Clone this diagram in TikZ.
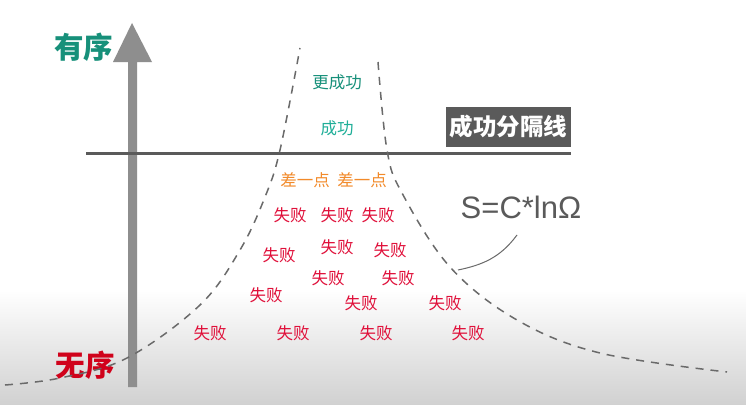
\documentclass[tikz,border=0pt]{standalone}
\usepackage{fontspec}
\setmainfont{Liberation Sans}
\newfontfamily\cjk{Noto Sans CJK SC}
\definecolor{ordgreen}{HTML}{17907A}
\definecolor{okgreen}{HTML}{1FAE98}
\definecolor{nearorange}{HTML}{F28A2A}
\definecolor{failred}{HTML}{E0103A}
\definecolor{chaosred}{HTML}{D0021B}
\definecolor{arrowgray}{HTML}{8E8E8E}
\definecolor{linegray}{HTML}{5A5A5A}
\definecolor{curvegray}{HTML}{6A6A6A}
\tikzset{
	fail/.style={text=failred,font=\cjk\fontsize{16.5}{16.5}\selectfont,inner sep=0pt},
	near/.style={text=nearorange,font=\cjk\fontsize{16.5}{16.5}\selectfont,inner sep=0pt},
	edge/.style={draw=curvegray,line width=1.5pt,dash pattern=on 8pt off 7pt},
}
\begin{document}
\begin{tikzpicture}[x=1pt,y=-1pt]
			\useasboundingbox (0,0) rectangle (746,404);
			\fill[white] (0,0) rectangle (746,290);
			\shade[top color=white,bottom color=black!18] (0,290) rectangle (746,404);
			\coordinate (tip) at (132,23);
			\coordinate (foot) at (132,387);
			\coordinate (sepL) at (86,153);
			\coordinate (sepR) at (571,153);
			\fill[arrowgray] (128,387) -- (128,62) -- (113,62) -- (tip) -- (152,62) -- (137,62) -- (137,387) -- cycle;
			\node[text=ordgreen,font=\cjk\bfseries\fontsize{29.5}{29.5}\selectfont,inner sep=0pt] (order) at (83.5,47) {有序};
			\node[text=chaosred,font=\cjk\bfseries\fontsize{29.5}{29.5}\selectfont,inner sep=0pt] (chaos) at (85,365) {无序};
			\draw[linegray,line width=3pt] (sepL) -- (sepR);
			\node[fill=linegray,text=white,font=\cjk\bfseries\fontsize{23.5}{23.5}\selectfont,minimum width=125pt,minimum height=40pt,inner sep=0pt] (sep) at (508.5,127) {成功分隔线};
			\draw[edge] plot[smooth,tension=0.6] coordinates {(5,385) (60,378) (127,358) (200,305) (240,250) (265,197) (280,150) (300,48)};
			\draw[edge] plot[smooth,tension=0.6] coordinates {(378,62) (387,150) (402,193) (450,267) (517,320) (600,353) (727,372)};
			\node[text=ordgreen,font=\cjk\fontsize{16.5}{16.5}\selectfont,inner sep=0pt] (better) at (337,82) {更成功};
			\node[text=okgreen,font=\cjk\fontsize{16.5}{16.5}\selectfont,inner sep=0pt] (ok) at (337,128) {成功};
			\node[near] (near1) at (305,180) {差一点};
			\node[near] (near2) at (362,180) {差一点};
			\node[fail] (f1) at (290,215) {失败};
			\node[fail] (f2) at (337,215) {失败};
			\node[fail] (f3) at (378,215) {失败};
			\node[fail] (f4) at (279,255) {失败};
			\node[fail] (f5) at (337,247) {失败};
			\node[fail] (f6) at (390,250) {失败};
			\node[fail] (f7) at (328,278) {失败};
			\node[fail] (f8) at (398,278) {失败};
			\node[fail] (f9) at (266,295) {失败};
			\node[fail] (f10) at (361,303) {失败};
			\node[fail] (f11) at (445,303) {失败};
			\node[fail] (f12) at (210,333) {失败};
			\node[fail] (f13) at (293,333) {失败};
			\node[fail] (f14) at (376,333) {失败};
			\node[fail] (f15) at (468,333) {失败};
			\node[text=linegray,font=\fontsize{31}{31}\selectfont,inner sep=0pt] (law) at (521,207) {S=C*lnΩ};
			\coordinate (hit) at (458,270);
			\draw[curvegray,line width=1pt] (517,235) .. controls (500,258) and (482,265) .. (hit);
		\end{tikzpicture}
\end{document}
